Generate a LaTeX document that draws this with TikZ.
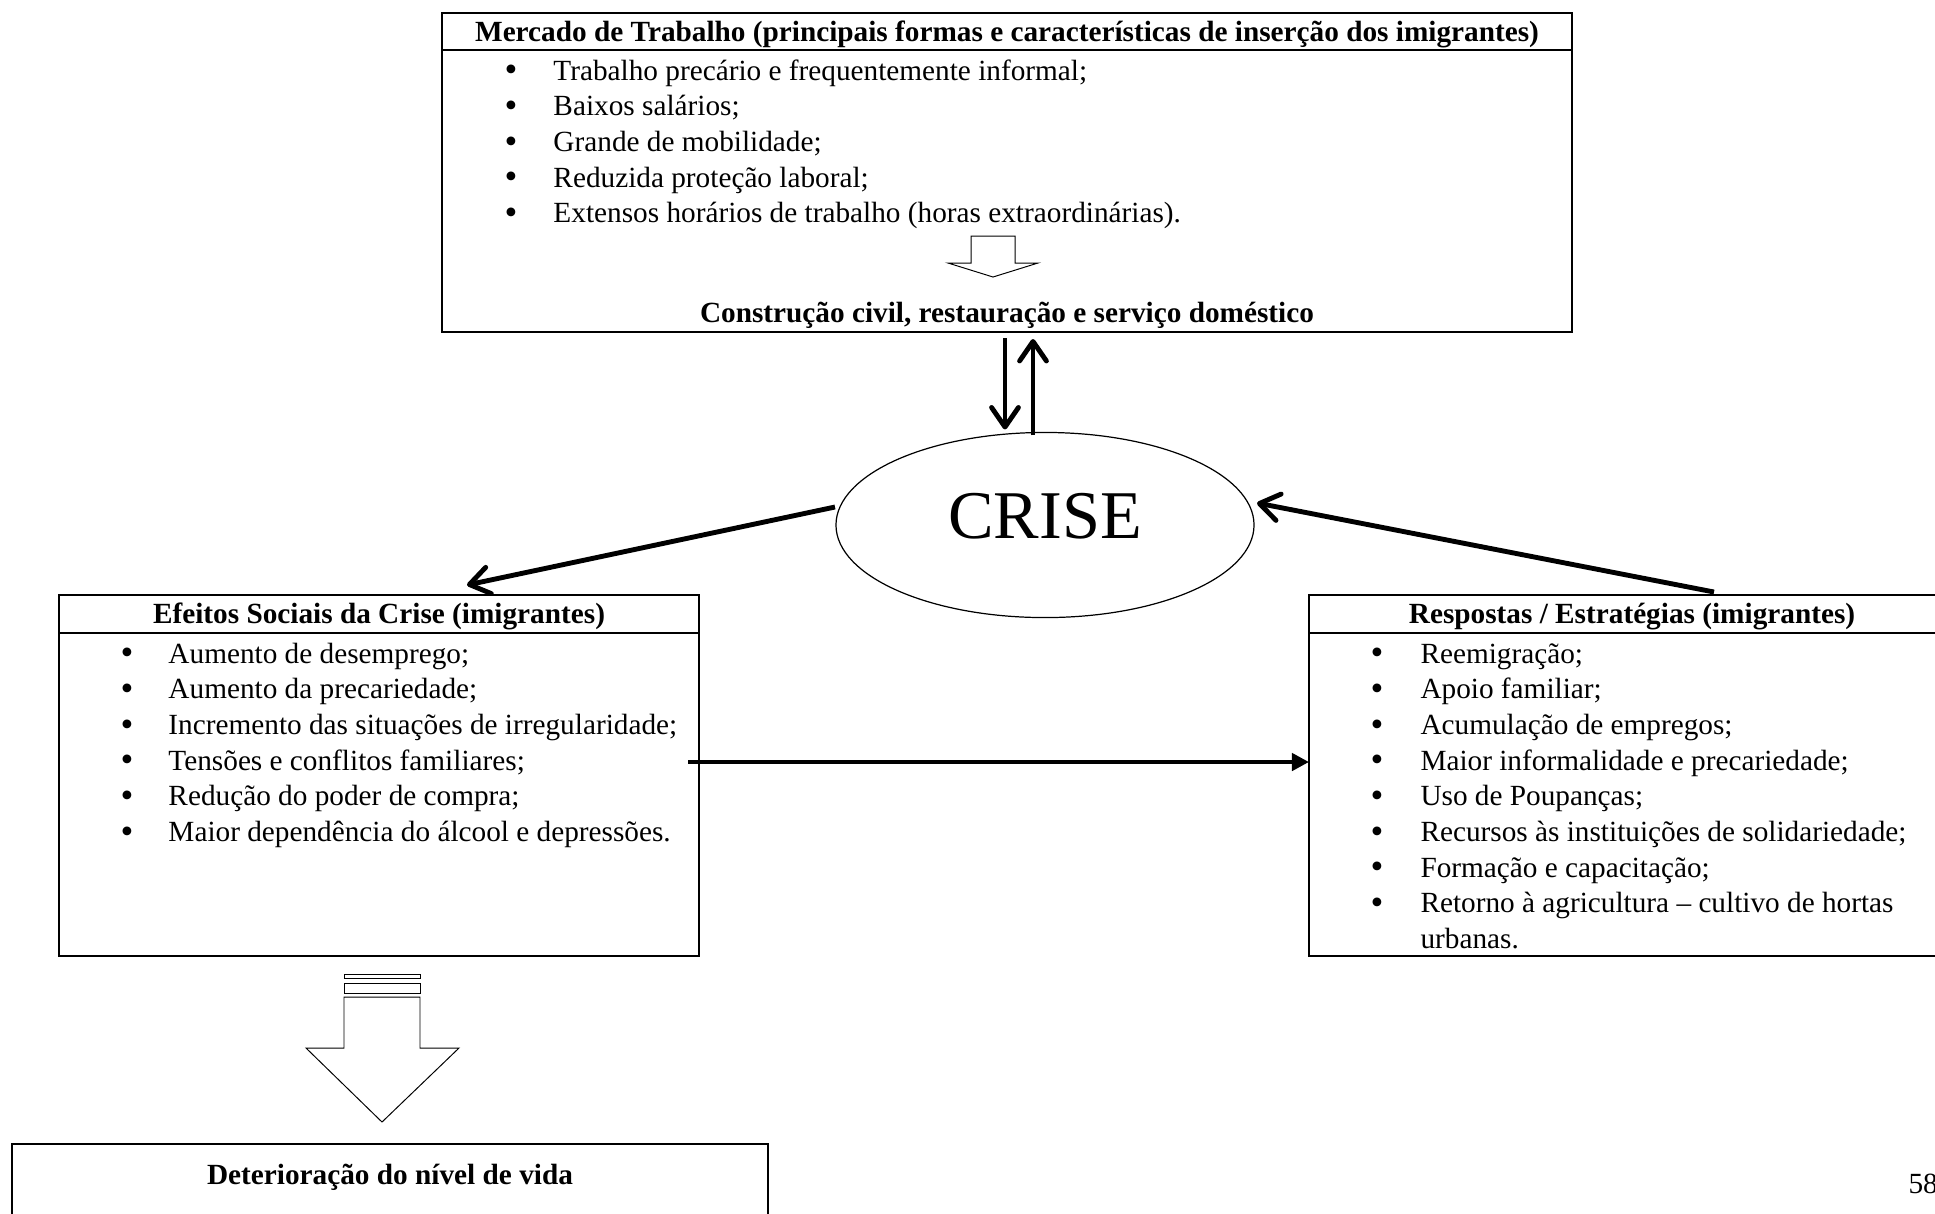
\documentclass[tikz,border=0pt]{standalone}
\usepackage{fontspec}
\setmainfont{Liberation Serif}
\usetikzlibrary{arrows.meta,calc,fit,shapes.geometric}
\begin{document}
\begin{tikzpicture}[x=0.41pt,y=-0.41pt,
  font=\fontsize{12}{14}\selectfont,
  box/.style={draw,line width=0.8pt,inner sep=0pt,outer sep=0pt,rectangle},
  sepline/.style={line width=0.8pt},
  hdr/.style={font=\fontsize{12}{14}\selectfont\bfseries,anchor=base,inner sep=0pt},
  itm/.style={anchor=base west,inner sep=0pt},
  bul/.style={anchor=base,inner sep=0pt,font=\fontsize{15}{15}\selectfont,yshift=-0.7pt},
  barrow/.style={line width=2pt,-{Straight Barb[length=8pt,width=11pt,round]}},
  harrow/.style={line width=2pt,-{Triangle[length=7pt,width=7pt]}},
  hollow/.style={draw,line width=0.4pt,fill=white,line join=miter},
]
\useasboundingbox (0,0) rectangle (1935,1213);
\clip (0,0) rectangle (1935,1213);

% boxes
\node[box,fit={(442,13)(1572,332)}] (mercado) {};
\node[box,fit={(59,595)(699,956)}] (efeitos) {};
\node[box,fit={(1309,595)(1955,956)}] (respostas) {};
\node[box,line width=0.6pt,fit={(12,1144)(768,1240)}] (deter) {};

% header separators
\draw[sepline] ($(mercado.north west)+(0,37)$) -- ($(mercado.north east)+(0,37)$);
\draw[sepline] ($(efeitos.north west)+(0,38)$) -- ($(efeitos.north east)+(0,38)$);
\draw[sepline] ($(respostas.north west)+(0,38)$) -- ($(respostas.north east)+(0,38)$);

% headers
\node[hdr] (hm) at (1007,41) {Mercado de Trabalho (principais formas e características de inserção dos imigrantes)};
\node[hdr] (he) at (379,623) {Efeitos Sociais da Crise (imigrantes)};
\node[hdr] (hr) at (1632,623) {Respostas / Estratégias (imigrantes)};
\node[hdr] (hc) at (1007,322) {Construção civil, restauração e serviço doméstico};
\node[hdr] (hd) at (390,1184) {Deterioração do nível de vida};

% top list
\foreach \t [count=\i] in {Trabalho precário e frequentemente informal;,Baixos salários;,Grande de mobilidade;,Reduzida proteção laboral;,Extensos horários de trabalho (horas extraordinárias).}{
  \node[bul] (mb\i) at (511,{80+35.7*(\i-1)}) {•};
  \node[itm] (mt\i) at (553,{80+35.7*(\i-1)}) {\t};
}
% left list
\foreach \t [count=\i] in {Aumento de desemprego;,Aumento da precariedade;,Incremento das situações de irregularidade;,Tensões e conflitos familiares;,Redução do poder de compra;,Maior dependência do álcool e depressões.}{
  \node[bul] (eb\i) at (127,{663+35.7*(\i-1)}) {•};
  \node[itm] (et\i) at (168,{663+35.7*(\i-1)}) {\t};
}
% right list
\foreach \t [count=\i] in {Reemigração;,Apoio familiar;,Acumulação de empregos;,Maior informalidade e precariedade;,Uso de Poupanças;,Recursos às instituições de solidariedade;,Formação e capacitação;,Retorno à agricultura – cultivo de hortas}{
  \node[bul] (rb\i) at (1377,{663+35.7*(\i-1)}) {•};
  \node[itm] (rt\i) at (1420,{663+35.7*(\i-1)}) {\t};
}
\node[itm] (rt9) at (1420,{663+35.7*8}) {urbanas.};

% hollow block arrow in top box
\draw[hollow] (971,236) -- (1015,236) -- (1015,263) -- (1038,263) -- (993,277) -- (948,263) -- (971,263) -- cycle;

% striped hollow block arrow
\draw[hollow] (344,974) rectangle (420,978);
\draw[hollow] (344,983) rectangle (420,993);
\draw[hollow] (344,997) -- (420,997) -- (420,1048) -- (459,1048) -- (382,1122) -- (306,1048) -- (344,1048) -- cycle;

% ellipse
\node[draw,ellipse,line width=0.5pt,minimum width=171.4pt,minimum height=75.9pt,inner sep=0pt,outer sep=0pt] (crise) at (1045,525) {};
\node[anchor=base,inner sep=0pt,font=\fontsize{28}{34}\selectfont] (crisetxt) at (1045,538) {CRISE};

% connectors
\draw[barrow] ($(mercado.south)+(-2,6)$) -- ($(crise.north)+(-40,-3)$);
\draw[barrow] ($(crise.north)+(-12,3)$) -- ($(mercado.south)+(26,7)$);
\draw[barrow] ($(crise.west)+(-1,-18)$) -- ($(efeitos.north)+(88,-10)$);
\draw[barrow] ($(respostas.north)+(82,-3)$) -- ($(crise.east)+(3,-22)$);
\draw[harrow] ($(efeitos.east)+(-11,-13.5)$) -- ($(respostas.west)+(0,-13.5)$);

% page number
\node[anchor=base west,inner sep=0pt] (pg) at (1908,1193) {58};
\end{tikzpicture}
\end{document}
